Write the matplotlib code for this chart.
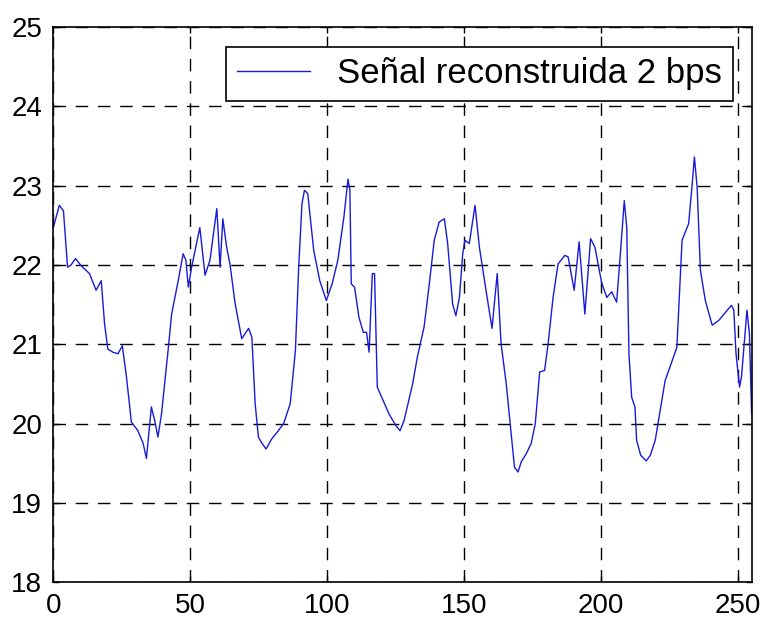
import matplotlib
matplotlib.use("Agg")
from matplotlib import pyplot as plt

# signal samples
xs = [0, 2.2, 3.7, 5.2, 6.5, 8.1, 10.1, 13.2, 15.6, 17.5, 18.7, 19.9, 21.7, 23.6, 25.2,
      26.7, 28.5, 30.9, 32.8, 34.0, 35.8, 37.0, 38.2, 39.5, 41.9, 43.2, 45.6, 47.4, 48.4,
      49.3, 50.5, 53.5, 55.4, 57.2, 59.7, 60.9, 61.9, 63.3, 64.5, 66.4, 68.8, 71.3, 72.5,
      73.7, 74.9, 76.2, 77.7, 79.8, 81.7, 84.1, 86.5, 88.4, 89.6, 90.8, 91.7, 92.9, 95.1,
      97.3, 99.7, 101.8, 103.9, 106.1, 107.6, 108.3, 108.8, 110.0, 111.6, 113.2, 114.4,
      115.3, 116.5, 117.3, 118.3, 120.2, 122.6, 125.0, 126.6, 128.1, 131.2, 133.0, 135.4,
      137.3, 139.1, 140.9, 142.8, 144.0, 145.8, 147.0, 148.3, 149.5, 150.3, 151.9, 154.0,
      155.6, 158.0, 160.2, 162.1, 163.5, 165.4, 167.2, 168.4, 169.7, 170.9, 172.7, 174.5,
      176.0, 177.6, 179.4, 180.7, 182.5, 184.3, 186.8, 188.0, 190.2, 192.0, 194.1, 196.2,
      197.8, 200.2, 202.1, 203.9, 205.7, 206.9, 208.5, 209.4, 210.2, 211.2, 212.4, 213.0,
      214.5, 216.5, 218.0, 219.8, 223.4, 227.7, 229.6, 232.0, 233.2, 234.1, 235.1, 236.3,
      238.1, 240.6, 243.0, 245.4, 247.6, 248.5, 249.3, 250.6, 251.3, 253.3, 254.2, 255.0]
ys = [22.47, 22.75, 22.68, 21.97, 22.0, 22.08, 21.99, 21.89, 21.68, 21.80, 21.26, 20.94,
      20.90, 20.88, 20.98, 20.59, 20.02, 19.91, 19.75, 19.56, 20.21, 20.04, 19.83, 20.12,
      20.92, 21.38, 21.80, 22.14, 22.06, 21.72, 21.97, 22.47, 21.87, 22.06, 22.71, 21.97,
      22.58, 22.22, 22.01, 21.51, 21.07, 21.20, 21.09, 20.25, 19.83, 19.75, 19.68, 19.81,
      19.89, 20.0, 20.25, 20.92, 21.97, 22.77, 22.94, 22.90, 22.18, 21.80, 21.55, 21.76,
      22.06, 22.60, 23.08, 22.94, 21.76, 21.72, 21.34, 21.15, 21.15, 20.90, 21.89, 21.89,
      20.46, 20.31, 20.12, 19.98, 19.91, 20.04, 20.50, 20.85, 21.22, 21.76, 22.31, 22.54,
      22.58, 22.27, 21.51, 21.36, 21.59, 22.14, 22.31, 22.27, 22.75, 22.22, 21.68, 21.20,
      21.89, 21.01, 20.50, 19.87, 19.45, 19.39, 19.52, 19.62, 19.75, 20.0, 20.65, 20.67,
      21.01, 21.59, 22.01, 22.12, 22.10, 21.68, 22.29, 21.38, 22.33, 22.22, 21.78, 21.59,
      21.66, 21.53, 22.06, 22.81, 22.47, 20.88, 20.33, 20.21, 19.79, 19.6, 19.53, 19.6,
      19.79, 20.54, 20.96, 22.31, 22.52, 22.98, 23.36, 22.98, 21.93, 21.55, 21.24, 21.30,
      21.40, 21.49, 21.43, 20.88, 20.46, 20.59, 21.43, 21.13, 20.12]

xticks = [0, 50, 100, 150, 200, 250]
yticks = [18, 19, 20, 21, 22, 23, 24, 25]
label = "Señal reconstruida 2 bps"

plt.rcParams['font.family'] = ['Liberation Sans', 'DejaVu Sans']

fig = plt.figure(figsize=(7.64, 6.2), dpi=100)
ax = fig.add_axes([0.0698, 0.0608, 0.914, 0.896])

ax.plot(xs, ys, color='#1a1ad8', lw=1.0, label=label)

ax.set_xlim(0, 255)
ax.set_ylim(18, 25)
ax.set_xticks(xticks)
ax.set_yticks(yticks)
ax.grid(True, color='black', linestyle=(0, (9, 7)), linewidth=1.0)
ax.tick_params(direction='in', length=4, width=1, labelsize=20, top=True, right=True)
ax.tick_params(axis='x', pad=8)
ax.tick_params(axis='y', pad=8)
for s in ax.spines.values():
    s.set_linewidth(1.2)

leg = ax.legend(loc='upper right', bbox_to_anchor=(0.973, 0.964), borderaxespad=0,
                fontsize=25, fancybox=False, framealpha=1, edgecolor='black',
                handlelength=2.1, handletextpad=0.8, borderpad=0.3)
leg.get_frame().set_linewidth(1.2)

fig.savefig("out.png", dpi=100)
